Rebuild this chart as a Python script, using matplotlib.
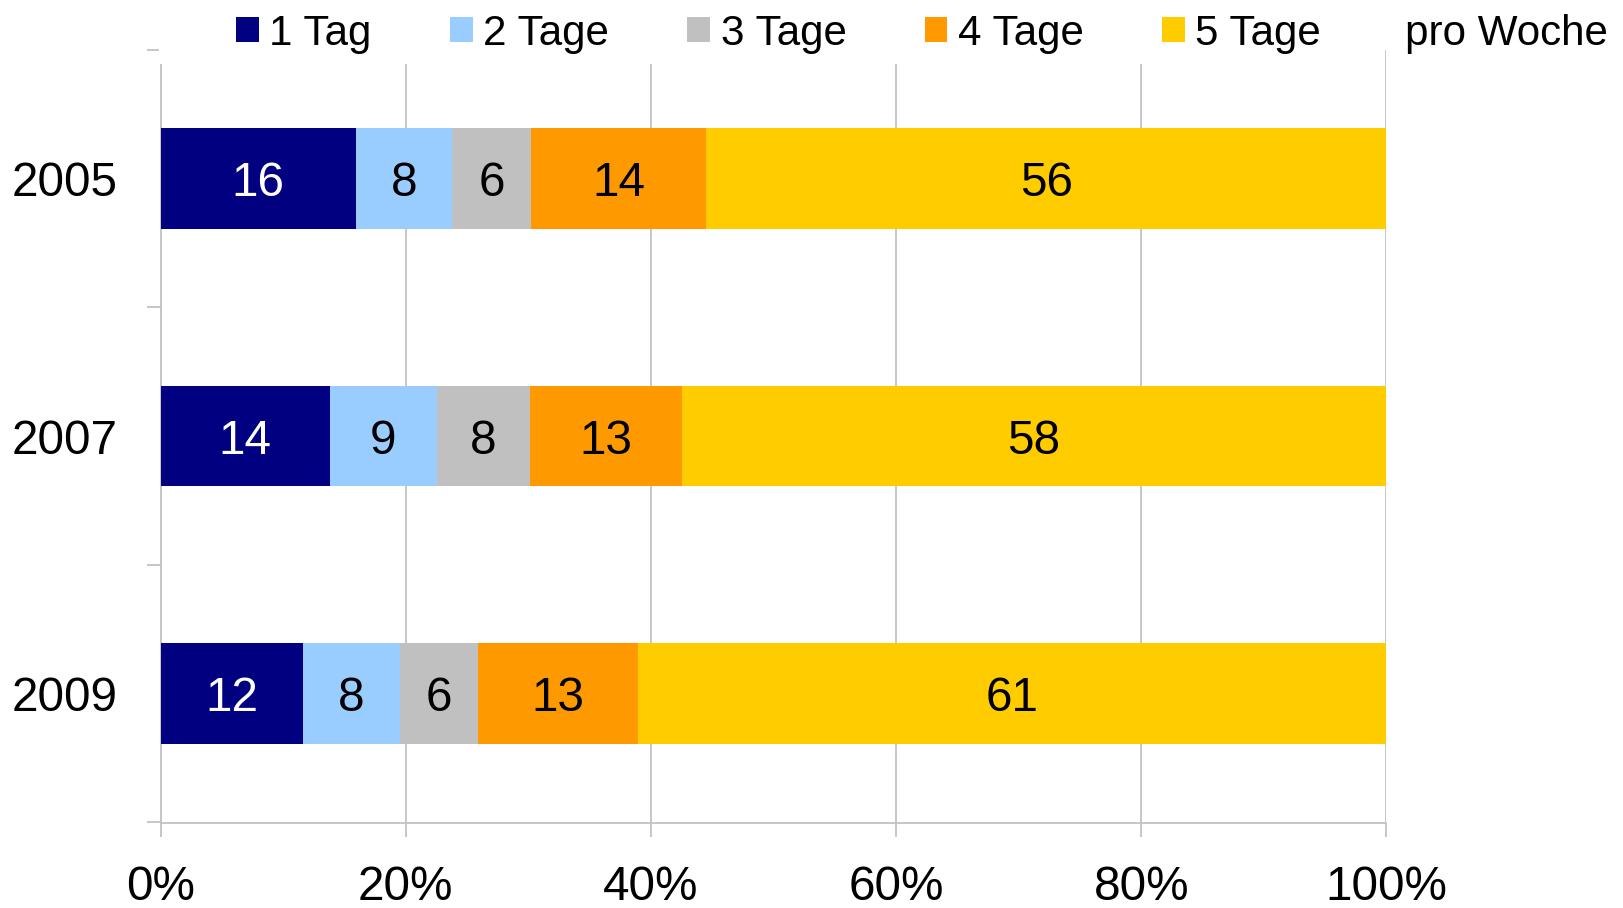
import matplotlib
matplotlib.use("Agg")
import matplotlib.pyplot as plt
from matplotlib.patches import Rectangle
import numpy as np

years = ["2005", "2007", "2009"]
series_names = ["1 Tag", "2 Tage", "3 Tage", "4 Tage", "5 Tage"]
# bar lengths (percent of each year)
tag1 = [15.9, 13.8, 11.6]
tag2 = [7.9, 8.7, 7.9]
tag3 = [6.4, 7.6, 6.4]
tag4 = [14.3, 12.4, 13.0]
tag5 = [55.5, 57.5, 61.1]
# value labels printed in the bars
label1 = [16, 14, 12]
label2 = [8, 9, 8]
label3 = [6, 8, 6]
label4 = [14, 13, 13]
label5 = [56, 58, 61]
colors = ["#000080", "#99ccff", "#c0c0c0", "#ff9900", "#ffcc00"]
label_colors = ["white", "black", "black", "black", "black"]
x_ticks = [0, 20, 40, 60, 80, 100]
x_ticklabels = ["0%", "20%", "40%", "60%", "80%", "100%"]

plt.rcParams["font.family"] = ["Liberation Sans", "DejaVu Sans"]

W, H = 1624, 908
fig = plt.figure(figsize=(W / 100, H / 100), dpi=100)
ax = fig.add_axes([160.7 / W, 1 - 822.5 / H, (1386.5 - 160.7) / W, (822.5 - 49.5) / H])

data = np.array([tag1, tag2, tag3, tag4, tag5], dtype=float)
labels = [label1, label2, label3, label4, label5]
totals = data.sum(axis=0)
shares = data / totals * 100

fs_big = 34.3
ypos = np.arange(len(years))
left = np.zeros(len(years))
handles = []
for i, name in enumerate(series_names):
    bars = ax.barh(ypos, shares[i], left=left, height=0.39, color=colors[i],
                   label=name, zorder=3)
    handles.append(bars)
    for j in range(len(years)):
        ax.text(left[j] + shares[i][j] / 2, ypos[j], str(labels[i][j]),
                ha="center", va="center_baseline", fontsize=fs_big,
                color=label_colors[i], zorder=4)
    left += shares[i]

ax.set_xlim(0, 100)
ax.set_ylim(len(years) - 0.5, -0.5)

grid_c = "#c3c3c3"
ax.set_xticks(x_ticks)
ax.set_xticklabels(x_ticklabels, fontsize=fs_big)
ax.xaxis.grid(True, color=grid_c, linewidth=1.3, zorder=0)
ax.set_axisbelow(True)

ax.set_yticks(ypos)
ax.set_yticklabels(years, fontsize=fs_big)
ax.set_yticks(np.arange(-0.5, len(years), 1.0), minor=True)
ax.tick_params(axis="y", which="major", length=0, pad=31)
ax.tick_params(axis="y", which="minor", length=10, width=1.3, color=grid_c, direction="out")
ax.tick_params(axis="x", which="major", length=10, width=1.3, color=grid_c, direction="out", pad=20.5)

for s in ["top", "right"]:
    ax.spines[s].set_visible(False)
for s in ["left", "bottom"]:
    ax.spines[s].set_color(grid_c)
    ax.spines[s].set_linewidth(1.3)

# white band behind the legend that covers the tops of the grid lines
cover = Rectangle((159.5 / W, 1 - 64 / H), (1383 - 159.5) / W, 64 / H,
                  transform=fig.transFigure, facecolor="white", edgecolor="none",
                  zorder=2)
fig.add_artist(cover)

fs_leg = 30.3
leg = fig.legend(handles=handles, labels=series_names, ncol=5, frameon=False,
                 loc="center left", bbox_to_anchor=(236 / W, 1 - 33.5 / H),
                 borderpad=0, borderaxespad=0, fontsize=fs_leg,
                 handlelength=0.54, handleheight=0.54, handletextpad=0.25,
                 columnspacing=1.86)
leg.set_zorder(5)
fig.text(1405 / W, 1 - 33.5 / H, "pro Woche", fontsize=fs_leg, ha="left", va="center",
         zorder=5)

fig.savefig("out.png", dpi=100)
